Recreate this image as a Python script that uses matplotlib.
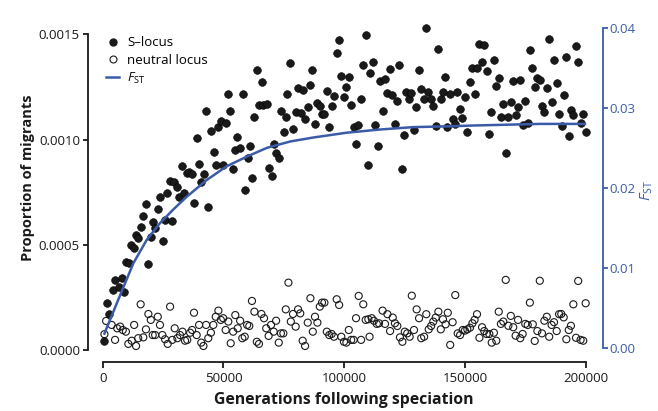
import numpy as np
import matplotlib
matplotlib.use('Agg')
import matplotlib.pyplot as plt
from matplotlib.lines import Line2D

plt.rcParams['font.family'] = 'Open Sans'
plt.rcParams['mathtext.fontset'] = 'custom'
plt.rcParams['mathtext.rm'] = 'Open Sans'
plt.rcParams['mathtext.it'] = 'Open Sans:italic'

# generations in thousands, proportions in units of 1e-4
s_gen_k = [0.7, 1.9, 2.7, 4.4, 5.1, 6.9, 7.9, 8.8, 9.6, 11.0, 11.6, 13.0, 13.8, 14.7, 15.7, 16.8,
           17.9, 18.9, 19.9, 20.7, 21.7, 22.8, 23.7, 24.8, 25.8, 26.8, 27.9, 28.8, 29.7, 30.6,
           31.7, 32.8, 33.8, 34.8, 35.9, 36.9, 37.8, 38.9, 39.9, 40.8, 41.9, 42.8, 43.7, 44.8,
           46.0, 46.9, 47.7, 48.9, 49.9, 51.1, 51.8, 52.7, 53.8, 54.8, 55.7, 56.9, 58.0, 58.9,
           60.0, 61.0, 62.0, 62.8, 63.8, 64.7, 65.8, 66.5, 67.9, 68.9, 70.0, 70.9, 71.9, 73.0,
           74.0, 75.0, 75.9, 76.4, 77.4, 78.9, 79.9, 81.0, 82.0, 82.8, 83.8, 84.9, 85.8, 86.8,
           87.9, 88.9, 90.0, 90.9, 91.8, 92.9, 93.8, 94.8, 95.9, 96.9, 97.9, 98.8, 99.9, 100.9,
           102.0, 102.9, 103.9, 104.9, 105.8, 106.8, 107.9, 108.9, 109.9, 110.8, 111.9, 112.9,
           113.9, 114.8, 115.9, 116.9, 117.9, 119.0, 119.9, 120.9, 121.9, 122.8, 123.9, 124.9,
           125.7, 126.8, 127.8, 128.9, 129.9, 130.9, 131.9, 132.9, 133.8, 134.8, 135.8, 136.9,
           137.9, 138.8, 140.0, 140.8, 141.8, 142.7, 143.8, 144.9, 145.9, 146.8, 148.0, 148.9,
           149.9, 151.0, 152.0, 152.9, 154.0, 154.9, 155.8, 156.9, 157.9, 159.0, 160.0, 160.9,
           161.9, 162.9, 164.0, 164.9, 165.9, 166.9, 168.0, 169.0, 169.9, 171.0, 172.0, 172.9,
           174.0, 174.9, 176.0, 176.9, 177.9, 179.0, 180.0, 181.0, 181.9, 182.9, 184.0, 184.9,
           185.9, 187.0, 188.0, 189.0, 190.1, 191.0, 192.0, 193.0, 193.9, 194.9, 195.9, 196.8,
           197.9, 199.0, 200.0]
s_locus = [0.44, 2.25, 1.71, 2.85, 3.33, 2.98, 3.41, 2.77, 4.20, 4.15, 4.99, 4.83, 5.47, 5.31, 5.86, 6.37,
           6.94, 4.07, 5.39, 6.10, 5.78, 6.70, 7.26, 5.19, 6.18, 7.45, 8.03, 6.15, 8.00, 7.76,
           7.26, 8.75, 7.45, 8.40, 8.47, 8.37, 6.97, 10.06, 8.84, 8.00, 8.37, 11.36, 6.78, 10.42,
           9.43, 8.79, 10.58, 10.90, 8.79, 10.77, 12.15, 11.36, 8.59, 9.51, 10.14, 9.59, 12.15, 7.60,
           9.11, 9.71, 8.16, 11.06, 13.31, 11.64, 12.75, 11.64, 11.68, 8.64, 8.27, 9.79, 9.35, 9.11,
           11.37, 10.36, 11.06, 12.17, 13.66, 10.49, 11.33, 12.44, 11.25, 12.36, 10.98, 11.54, 12.60, 13.31,
           10.74, 11.73, 11.60, 11.20, 11.22, 12.32, 10.61, 11.60, 12.09, 14.10, 14.73, 13.04, 12.04, 12.49,
           12.99, 11.66, 10.61, 9.81, 10.69, 11.92, 13.55, 14.97, 8.81, 13.15, 13.67, 10.71,
           9.70, 12.77, 11.36, 12.87, 12.23, 13.36, 12.12, 10.74, 11.83, 13.56, 8.59, 10.23,
           12.28, 11.92, 12.20, 10.46, 11.56, 13.31, 12.39, 11.94, 15.32, 12.25, 11.94, 11.58,
           10.65, 14.29, 11.94, 12.25, 12.99, 10.61, 12.17, 10.96, 10.73, 12.25, 11.44, 11.04,
           12.01, 10.35, 12.72, 13.42, 12.15, 13.42, 14.54, 13.67, 14.50, 13.26, 10.27, 11.30,
           13.77, 12.55, 12.91, 11.06, 11.69, 9.38, 11.09, 11.77, 12.77, 11.17, 11.56, 12.83,
           10.69, 11.85, 10.80, 14.26, 13.39, 12.49, 12.91, 12.83, 11.60, 11.30, 12.47, 14.78,
           11.77, 13.78, 12.70, 11.20, 10.65, 12.12, 13.94, 10.16, 11.41, 11.17, 14.45, 13.70,
           10.77, 11.20, 10.38]

n_gen_k = [0.7, 1.4, 3.7, 5.1, 6.0, 7.2, 8.3, 9.6, 10.6, 12.0, 13.0, 13.8, 14.7, 15.7, 16.8, 17.9,
           18.9, 19.9, 20.7, 21.7, 22.8, 23.7, 24.7, 25.8, 26.9, 27.9, 28.8, 29.8, 30.9, 32.0,
           33.0, 34.1, 35.0, 36.2, 37.0, 37.8, 38.9, 39.9, 40.8, 41.7, 42.8, 43.7, 44.8, 45.8,
           46.8, 47.9, 48.9, 49.9, 50.9, 52.0, 53.0, 54.0, 54.9, 55.9, 56.9, 57.8, 58.8, 59.8,
           60.7, 61.8, 62.8, 63.8, 64.7, 65.7, 66.8, 67.7, 68.7, 69.7, 70.8, 71.8, 72.9, 73.8,
           74.8, 75.8, 76.9, 77.9, 78.8, 79.9, 80.9, 81.8, 82.8, 83.8, 84.9, 86.0, 87.0, 87.9,
           88.9, 89.9, 90.8, 91.8, 92.8, 93.8, 94.8, 95.8, 96.9, 97.9, 98.8, 99.9, 100.9, 101.9,
           102.9, 103.9, 104.9, 106.0, 107.0, 107.9, 108.9, 110.0, 110.5, 111.4, 112.3, 113.5,
           114.4, 115.9, 116.9, 117.9, 119.0, 120.1, 121.0, 122.0, 123.1, 124.1, 125.1, 126.1,
           127.1, 128.0, 128.9, 130.0, 131.0, 131.9, 133.1, 134.0, 135.0, 136.0, 136.9, 137.9,
           139.0, 140.0, 140.9, 142.0, 142.9, 143.9, 144.9, 146.0, 147.0, 148.0, 149.1, 150.0,
           151.0, 152.1, 153.1, 154.0, 155.0, 156.0, 157.1, 158.0, 159.0, 160.1, 161.1, 162.0,
           163.0, 164.0, 164.9, 165.9, 166.9, 168.0, 169.0, 170.0, 171.0, 172.0, 172.9, 173.9,
           175.0, 176.0, 176.9, 178.1, 178.9, 180.0, 181.0, 181.9, 182.9, 183.9, 184.9, 185.9,
           186.9, 188.0, 189.0, 189.9, 190.9, 192.0, 193.0, 193.9, 194.9, 196.0, 196.9, 197.9,
           199.0, 200.0]
neutral = [0.75, 1.38, 1.19, 0.48, 1.03, 1.11, 0.95, 0.87, 0.29, 0.44, 1.19, 0.19, 0.56, 2.17, 0.60, 0.98,
           1.71, 1.43, 0.71, 0.71, 1.58, 1.19, 0.71, 0.51, 0.29, 2.06, 0.48, 1.03, 0.56, 0.71,
           0.87, 0.44, 0.48, 0.82, 0.95, 1.77, 0.71, 1.19, 0.35, 0.19, 1.19, 0.56, 0.82, 1.19,
           1.58, 1.87, 1.43, 1.51, 0.95, 1.35, 0.32, 0.87, 1.66, 1.03, 1.39, 0.56, 0.63, 1.19,
           1.14, 2.33, 1.82, 0.39, 0.29, 1.71, 1.51, 1.03, 0.67, 1.19, 0.87, 1.39, 0.35, 0.79,
           0.79, 1.93, 3.20, 1.35, 1.71, 1.11, 1.93, 1.74, 0.44, 0.19, 1.30, 2.46, 0.87, 1.58,
           1.30, 2.06, 2.25, 2.25, 0.87, 0.71, 0.76, 0.63, 2.41, 2.14, 0.63, 0.39, 0.35, 0.95,
           0.48, 0.48, 1.51, 2.57, 0.48, 2.17, 1.43, 1.46, 0.63, 1.51, 1.39, 1.24,
           1.27, 1.87, 1.24, 1.70, 0.90, 1.54, 1.27, 1.14, 0.60, 0.39, 0.87, 0.79,
           0.63, 2.58, 0.95, 1.93, 1.51, 0.56, 0.63, 1.70, 0.98, 1.14, 1.35, 1.54,
           1.82, 0.98, 1.46, 1.22, 1.77, 0.24, 1.32, 2.61, 0.79, 0.71, 0.95, 0.92,
           0.98, 1.06, 1.27, 1.43, 1.70, 0.58, 1.08, 0.90, 0.76, 0.76, 0.35, 0.82,
           0.44, 1.82, 1.24, 1.35, 3.33, 1.15, 1.62, 1.08, 0.68, 1.43, 0.56, 0.76,
           1.24, 1.19, 2.25, 1.22, 0.43, 0.90, 3.29, 0.79, 1.39, 1.58, 0.63, 1.19,
           1.32, 0.90, 1.70, 1.71, 1.55, 0.51, 0.95, 1.15, 2.17, 0.58, 3.28, 0.48,
           0.44, 2.22]

fst_gen_k = [0.7, 7.2, 12.7, 18.2, 23.7, 29.2, 34.8, 43.1, 51.3, 59.6, 67.9, 77.6, 87.2,
             101.0, 114.8, 128.6, 143.8, 153.5, 167.3, 181.1, 199.7]
fst = [0.0018, 0.0066, 0.0106, 0.0135, 0.0156, 0.0173, 0.0189, 0.0210, 0.0227, 0.0239, 0.0250,
       0.0258, 0.0263, 0.0269, 0.0273, 0.0276, 0.0277, 0.0278, 0.0279, 0.0280, 0.0280]

blue = '#3b5ba9'
ink = '#1a1a1a'

fig = plt.figure(figsize=(6.58, 4.11), dpi=100)
ax = fig.add_axes([0.1488, 0.1331, 0.7486, 0.809])

ax.scatter(np.array(n_gen_k) * 1000, np.array(neutral) * 1e-4, s=26, facecolors='none',
           edgecolors=ink, linewidths=0.8, zorder=2, clip_on=False)
ax.scatter(np.array(s_gen_k) * 1000, np.array(s_locus) * 1e-4, s=31, color=ink,
           edgecolors='black', linewidths=0.4, zorder=3, clip_on=False)

ax.set_xlim(-2000, 202000)
ax.set_ylim(-0.00003, 0.00155)
ax.set_xticks([0, 50000, 100000, 150000, 200000])
ax.set_yticks([0, 0.0005, 0.0010, 0.0015])
ax.set_yticklabels(['0.0000', '0.0005', '0.0010', '0.0015'])

for side in ['top', 'right']:
    ax.spines[side].set_visible(False)
ax.spines['left'].set_position(('outward', 6.9))
ax.spines['bottom'].set_position(('outward', 3.9))
ax.spines['left'].set_bounds(0, 0.0015)
ax.spines['bottom'].set_bounds(0, 200000)
for side in ['left', 'bottom']:
    ax.spines[side].set_linewidth(1.3)
    ax.spines[side].set_color(ink)
ax.tick_params(axis='both', colors=ink, labelsize=9.5, width=1.3, length=3.5, pad=2.5)
ax.tick_params(axis='x', length=4.5, pad=3)

ax.set_xlabel('Generations following speciation', fontsize=11.3, fontweight='bold',
              color=ink, labelpad=5)
ax.set_ylabel('Proportion of migrants', fontsize=10.5, fontweight='bold', color=ink)
ax.yaxis.set_label_coords(-0.1276, 0.538)

# FST on the right axis
ax2 = ax.twinx()
ax2.plot(np.array(fst_gen_k) * 1000, fst, color=blue, lw=1.8, zorder=4)
ax2.set_ylim(-0.00104, 0.04051)
ax2.set_yticks([0, 0.01, 0.02, 0.03, 0.04])
ax2.set_yticklabels(['0.00', '0.01', '0.02', '0.03', '0.04'])
for side in ['top', 'left', 'bottom']:
    ax2.spines[side].set_visible(False)
ax2.spines['right'].set_position(('outward', 8.8))
ax2.spines['right'].set_bounds(0, 0.04)
ax2.spines['right'].set_color(blue)
ax2.spines['right'].set_linewidth(1.3)
ax2.tick_params(axis='y', colors=blue, labelsize=9.5, width=1.3, length=3.5, pad=1.5)
ax2.set_ylabel(r'$\mathit{F}_{\mathrm{ST}}$', color=blue, fontsize=11, labelpad=2)

handles = [
    Line2D([], [], marker='o', ls='none', color=ink, markersize=5),
    Line2D([], [], marker='o', ls='none', markerfacecolor='none', markeredgecolor=ink,
           markeredgewidth=0.8, markersize=5),
    Line2D([], [], color=blue, lw=1.8),
]
ax2.legend(handles, ['S\u2013locus', 'neutral locus', r'$\mathit{F}_{\mathrm{ST}}$'],
           loc='upper left', bbox_to_anchor=(0.0165, 0.962), frameon=False, fontsize=9.5,
           handlelength=1.0, handletextpad=0.6, labelspacing=0.32, borderpad=0,
           borderaxespad=0)

fig.savefig('out.png', dpi=100)
